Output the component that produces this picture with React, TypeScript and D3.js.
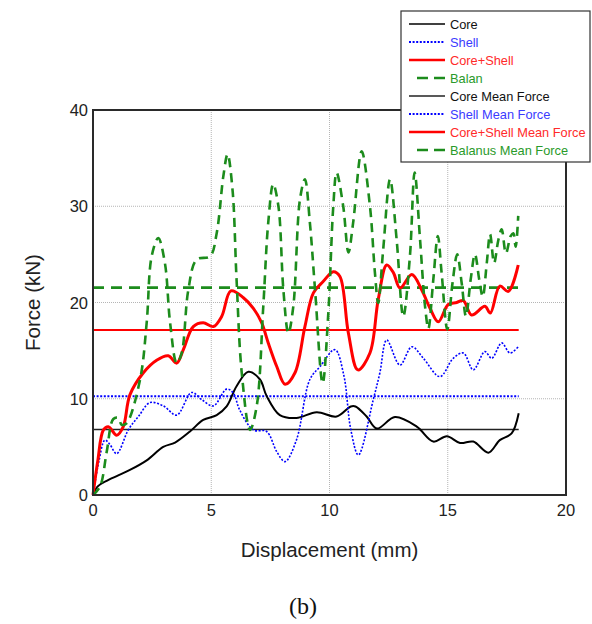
import React from "react";
import * as d3 from "d3";

const xTicks = [0, 5, 10, 15, 20];
const yTicks = [0, 10, 20, 30, 40];

const corePts: [number, number][] = [
  [0, 0], [0.2, 0.9], [0.6, 1.5], [1.56, 2.6], [2.27, 3.6], [2.97, 5.0], [3.47, 5.45], [4.1, 6.6],
  [4.66, 7.8], [5.23, 8.3], [5.65, 9.2], [6.07, 11.3], [6.57, 12.8], [7.06, 12.0], [7.34, 10.3],
  [7.9, 8.3], [8.6, 8.0], [9.46, 8.6], [10.3, 8.15], [10.9, 9.2], [11.1, 9.2], [11.57, 8.15],
  [12.0, 6.9], [12.77, 8.1], [13.69, 7.1], [14.39, 5.55], [14.96, 6.1], [15.52, 5.4], [16.08, 5.55],
  [16.72, 4.4], [17.2, 5.7], [17.7, 6.4], [18.0, 8.5],
];

const shellPts: [number, number][] = [
  [0, 0], [0.25, 3.5], [0.5, 5.7], [0.7, 5.3], [1.0, 4.3], [1.5, 6.8], [1.92, 8.15], [2.41, 9.6],
  [2.97, 9.26], [3.54, 8.3], [4.17, 10.65], [4.6, 9.9], [5.09, 9.26], [5.65, 11.0], [5.93, 10.6],
  [6.2, 8.85], [6.78, 6.76], [7.34, 6.6], [7.77, 4.5], [8.12, 3.47], [8.6, 5.7], [9.17, 12.0],
  [9.6, 13.35], [10.23, 15.1], [10.6, 12.5], [10.9, 6.8], [11.22, 4.16], [11.85, 9.9], [12.13, 12.7],
  [12.42, 16.1], [12.98, 13.5], [13.48, 15.4], [13.97, 14.2], [14.67, 12.3], [15.23, 14.2],
  [15.66, 14.75], [16.08, 13.0], [16.57, 14.9], [16.86, 14.2], [17.28, 15.8], [17.63, 14.75],
  [17.98, 15.4],
];

const coreShellPts: [number, number][] = [
  [0, 0], [0.2, 3.5], [0.44, 6.76], [0.65, 7.1], [1.0, 6.2], [1.28, 7.1], [1.56, 10.4], [2.13, 12.7],
  [2.69, 14.0], [3.18, 14.46], [3.54, 13.7], [3.82, 15.1], [4.24, 17.5], [4.66, 17.9], [5.09, 17.5],
  [5.44, 18.55], [5.83, 21.2], [6.36, 20.5], [6.78, 19.4], [7.13, 17.9], [7.41, 15.8], [7.77, 13.35],
  [8.12, 11.5], [8.54, 12.7], [8.96, 17.5], [9.32, 21.0], [9.74, 22.2], [10.16, 23.2], [10.44, 22.7],
  [10.8, 16.8], [11.2, 13.0], [11.71, 14.75], [12.06, 20.3], [12.42, 23.9], [12.7, 23.1],
  [12.98, 21.5], [13.48, 22.9], [13.9, 21.3], [14.25, 19.4], [14.6, 18.0], [15.02, 19.8],
  [15.38, 20.0], [15.66, 20.2], [16.01, 18.7], [16.57, 19.6], [16.8, 18.9], [17.2, 21.7],
  [17.56, 21.15], [17.98, 23.9],
];

const balanPts: [number, number][] = [
  [0, 0], [0.3, 0.9], [0.58, 4.5], [0.86, 7.9], [1.07, 8.0], [1.21, 7.3], [1.42, 7.45], [1.99, 12.0],
  [2.27, 17.9], [2.48, 24.8], [2.76, 26.7], [3.04, 24.1], [3.26, 17.9], [3.54, 13.7], [3.75, 14.75],
  [4.03, 21.3], [4.38, 24.45], [4.95, 24.8], [5.23, 27.2], [5.51, 33.1], [5.69, 35.4], [5.9, 31.7],
  [6.07, 22.4], [6.29, 12.7], [6.64, 6.76], [6.92, 9.2], [7.2, 19.6], [7.41, 28.3], [7.62, 32.3],
  [7.84, 30.0], [8.05, 21.3], [8.26, 16.8], [8.47, 19.6], [8.75, 30.7], [8.96, 32.8], [9.17, 28.3],
  [9.39, 21.3], [9.71, 11.6], [9.95, 18.9], [10.16, 30.0], [10.3, 33.5], [10.58, 30.0], [10.8, 25.2],
  [11.0, 28.3], [11.36, 35.7], [11.71, 30.0], [11.92, 23.1], [12.06, 19.95], [12.27, 25.5],
  [12.56, 32.8], [12.84, 26.5], [13.12, 18.55], [13.4, 24.8], [13.6, 33.5], [13.83, 26.5],
  [14.04, 19.6], [14.18, 17.3], [14.39, 22.4], [14.58, 26.9], [14.74, 23.1], [14.98, 17.2],
  [15.2, 22.0], [15.4, 25.0], [15.59, 22.0], [15.77, 18.55], [15.97, 22.4], [16.15, 25.0],
  [16.33, 22.4], [16.48, 20.6], [16.65, 24.1], [16.79, 27.1], [16.96, 24.1], [17.14, 26.5],
  [17.28, 27.6], [17.46, 25.1], [17.66, 26.9], [17.77, 27.2], [17.87, 25.8], [17.98, 29.0],
];

const meanNames = ["Core Mean Force", "Shell Mean Force", "Core+Shell Mean Force", "Balanus Mean Force"];
const meanValues = [6.8, 10.27, 17.15, 21.55];
const meanRange = [0, 18];

const legendNames = ["Core", "Shell", "Core+Shell", "Balan", ...meanNames];

const COL = { core: "#000000", shell: "#0000ff", cs: "#ff0000", bal: "#1c8c1c" };
const TEXTCOL = { core: "#111111", shell: "#3b3bff", cs: "#ff2a2a", bal: "#2a9a2a" };

const styles = [
  { stroke: COL.core, w: 2, dash: "", text: TEXTCOL.core },
  { stroke: COL.shell, w: 1.6, dash: "2,1.6", text: TEXTCOL.shell },
  { stroke: COL.cs, w: 3, dash: "", text: TEXTCOL.cs },
  { stroke: COL.bal, w: 2.6, dash: "9,6", text: TEXTCOL.bal },
];
const meanStyles = [
  { stroke: "#222", w: 1.6, dash: "" },
  { stroke: COL.shell, w: 2, dash: "2,1.6" },
  { stroke: COL.cs, w: 2, dash: "" },
  { stroke: COL.bal, w: 2.6, dash: "11,7" },
];

const FONT = "'Liberation Sans', Arial, Helvetica, sans-serif";

export default function App() {
  const W = 592, H = 624;
  const L = 93, R = 566, T = 110, B = 495;
  const x = d3.scaleLinear().domain([0, 20]).range([L, R]);
  const y = d3.scaleLinear().domain([0, 40]).range([B, T]);
  const line = d3
    .line<[number, number]>()
    .x((d) => x(d[0]))
    .y((d) => y(d[1]))
    .curve(d3.curveCatmullRom.alpha(0.5));

  const series = [corePts, shellPts, coreShellPts, balanPts];

  const legX = 401, legY = 11, legW = 189, legH = 151;
  const rowY = (i: number) => 24 + i * 18;

  return (
    <svg width={W} height={H} style={{ position: "absolute", left: 0, top: 0, background: "#fff" }}>
      <rect x={0} y={0} width={W} height={H} fill="#fff" />
      {/* grid */}
      {xTicks.slice(1, -1).map((t) => (
        <line key={"gx" + t} x1={x(t)} x2={x(t)} y1={T} y2={B} stroke="#b5b5b5" strokeWidth={1} strokeDasharray="1,1" />
      ))}
      {yTicks.slice(1, -1).map((t) => (
        <line key={"gy" + t} x1={L} x2={R} y1={y(t)} y2={y(t)} stroke="#b5b5b5" strokeWidth={1} strokeDasharray="1,1" />
      ))}
      {/* mean lines */}
      {meanValues.map((v, i) => (
        <line
          key={"m" + i}
          x1={x(meanRange[0])}
          x2={x(meanRange[1])}
          y1={y(v)}
          y2={y(v)}
          stroke={meanStyles[i].stroke}
          strokeWidth={meanStyles[i].w}
          strokeDasharray={meanStyles[i].dash || undefined}
        />
      ))}
      {/* series */}
      {series.map((s, i) => (
        <path
          key={"s" + i}
          d={line(s) || ""}
          fill="none"
          stroke={styles[i].stroke}
          strokeWidth={styles[i].w}
          strokeDasharray={styles[i].dash || undefined}
          strokeLinejoin="round"
        />
      ))}
      {/* frame */}
      <rect x={L} y={T} width={R - L} height={B - T} fill="none" stroke="#2a2a2a" strokeWidth={2} />
      {/* tick labels */}
      {xTicks.map((t) => (
        <text key={"xt" + t} x={x(t)} y={516} textAnchor="middle" fontFamily={FONT} fontSize={16.5} fill="#222">
          {t}
        </text>
      ))}
      {yTicks.map((t) => (
        <text key={"yt" + t} x={88} y={y(t) + 6} textAnchor="end" fontFamily={FONT} fontSize={16.5} fill="#222">
          {t}
        </text>
      ))}
      {/* axis titles */}
      <text x={(L + R) / 2} y={557} textAnchor="middle" fontFamily={FONT} fontSize={20.5} fill="#222">
        Displacement (mm)
      </text>
      <text
        transform={`translate(40,${(T + B) / 2}) rotate(-90)`}
        textAnchor="middle"
        fontFamily={FONT}
        fontSize={20.5}
        fill="#222"
      >
        Force (kN)
      </text>
      <text x={303} y={614} textAnchor="middle" fontFamily="'Liberation Serif', 'Times New Roman', serif" fontSize={24} fill="#111">
        (b)
      </text>
      {/* legend */}
      <rect x={legX} y={legY} width={legW} height={legH} fill="#fff" stroke="#333" strokeWidth={1.2} />
      {legendNames.map((n, i) => {
        const st = i < 4 ? styles[i] : meanStyles[i - 4];
        const tc = styles[i % 4].text;
        const isDash = i % 4 === 3;
        return (
          <g key={"lg" + i}>
            <line
              x1={isDash ? 417 : 409}
              x2={445}
              y1={rowY(i)}
              y2={rowY(i)}
              stroke={st.stroke}
              strokeWidth={i % 4 === 2 ? 2.4 : i % 4 === 1 ? 1.8 : i % 4 === 3 ? 2.4 : 1.6}
              strokeDasharray={isDash ? "11,6" : st.dash || undefined}
            />
            <text x={450} y={rowY(i) + 4.5} fontFamily={FONT} fontSize={12.8} fill={tc}>
              {n}
            </text>
          </g>
        );
      })}
    </svg>
  );
}
